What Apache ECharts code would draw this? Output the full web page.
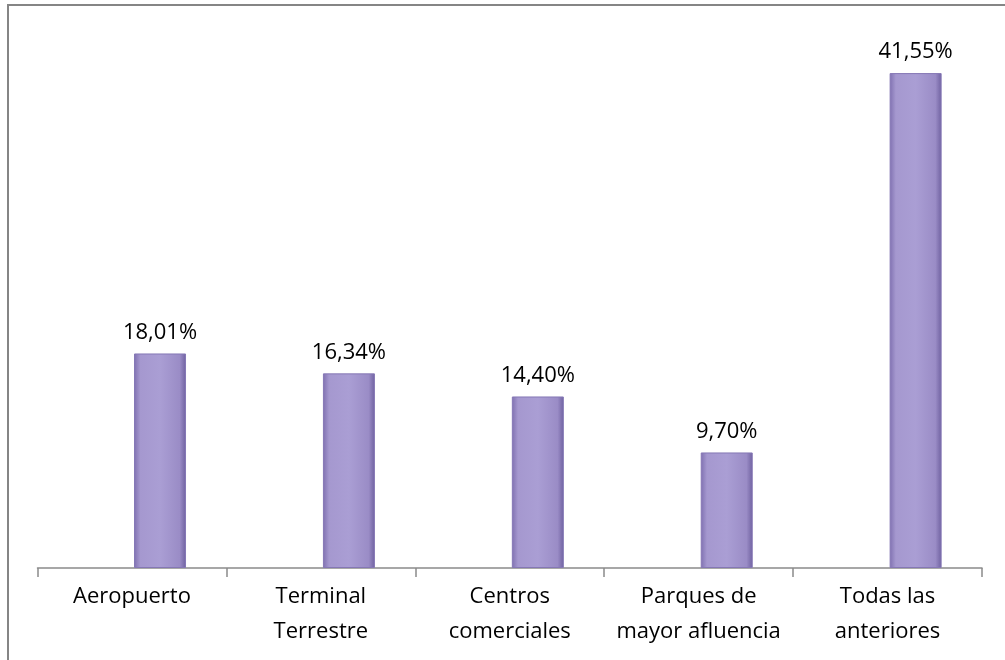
<!DOCTYPE html>
<html>
<head>
<meta charset="utf-8">
<script src="https://cdn.jsdelivr.net/npm/echarts@6/dist/echarts.min.js"></script>
<style>
html,body{margin:0;padding:0;background:#fff;}
#c{width:1005px;height:660px;}
</style>
</head>
<body>
<div id="c"></div>
<script>
const categories = ['Aeropuerto', 'Terminal\nTerrestre', 'Centros\ncomerciales', 'Parques de\nmayor afluencia', 'Todas las\nanteriores'];
const values = [18.01, 16.34, 14.40, 9.70, 41.55];
const valueLabels = ['18,01%', '16,34%', '14,40%', '9,70%', '41,55%'];
const placeholder = [null, null, null, null, null];

const chart = echarts.init(document.getElementById('c'), null, {renderer: 'canvas'});
const font = '"Open Sans", "Noto Sans", sans-serif';
chart.setOption({
  animation: false,
  backgroundColor: '#fff',
  graphic: [{
    type: 'polyline',
    shape: {points: [[8, 665], [8, 5], [1010, 5]]},
    style: {stroke: '#858585', lineWidth: 2, fill: null}
  }],
  grid: {left: 37.5, right: 23, top: 32, bottom: 92},
  xAxis: {
    type: 'category',
    data: categories,
    axisLine: {lineStyle: {color: '#8a8a8a', width: 1.5}},
    axisTick: {show: true, length: 9, lineStyle: {color: '#8a8a8a', width: 1.5}},
    axisLabel: {color: '#000', fontSize: 22, lineHeight: 35, margin: 11, fontFamily: font, interval: 0}
  },
  yAxis: {type: 'value', min: 0, max: 45, show: false, splitLine: {show: false}},
  series: [
    {type: 'bar', data: placeholder, barWidth: 52, barGap: '8%'},
    {
      type: 'bar',
      data: values,
      barWidth: 52,
      itemStyle: {
        color: {
          type: 'linear', x: 0, y: 0, x2: 1, y2: 0,
          colorStops: [
            {offset: 0, color: '#7f70b0'},
            {offset: 0.12, color: '#a598cf'},
            {offset: 0.5, color: '#aa9ed4'},
            {offset: 0.88, color: '#9a8cc6'},
            {offset: 1, color: '#6f61a0'}
          ]
        },
        borderColor: '#8577b5',
        borderWidth: 1
      },
      label: {
        show: true,
        position: 'top',
        distance: 10,
        color: '#000',
        fontSize: 22,
        fontFamily: font,
        formatter: p => valueLabels[p.dataIndex]
      }
    }
  ]
});
</script>
</body>
</html>
